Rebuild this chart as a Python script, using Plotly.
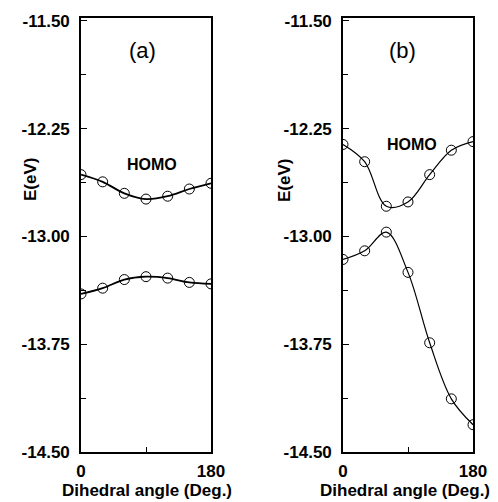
import plotly.graph_objects as go

angles = [0, 30, 60, 90, 120, 150, 180]
homo_a = [-12.57, -12.62, -12.70, -12.74, -12.72, -12.67, -12.63]
lower_a = [-13.40, -13.36, -13.30, -13.28, -13.29, -13.32, -13.33]
homo_b = [-12.36, -12.48, -12.79, -12.76, -12.57, -12.40, -12.34]
lower_b = [-13.16, -13.10, -12.97, -13.25, -13.74, -14.13, -14.31]

y_ticks = [-11.50, -12.25, -13.00, -13.75, -14.50]
y_ticktext = ["-11.50", "-12.25", "-13.00", "-13.75", "-14.50"]
x_ticks = [0, 180]
x_ticktext = ["0", "180"]

FONT = "Liberation Sans"
W, H = 498, 502

fig = go.Figure()

def add_series(y, xa, ya, lw):
    fig.add_trace(go.Scatter(
        x=angles, y=y, xaxis=xa, yaxis=ya, mode="lines+markers",
        line=dict(color="black", width=lw, shape="spline", smoothing=1.0),
        marker=dict(symbol="circle-open", size=10, color="black", line=dict(width=1)),
        showlegend=False, hoverinfo="skip"))

add_series(homo_a, "x", "y", 1.8)
add_series(lower_a, "x", "y", 1.8)
add_series(homo_b, "x2", "y2", 1.2)
add_series(lower_b, "x2", "y2", 1.2)

def px_x(p):
    return p / W

def px_y(p):
    return (H - p) / H

ydom = [px_y(452), px_y(18)]
xdom_a = [px_x(81), px_x(211)]
xdom_b = [px_x(343), px_x(473)]

tickfont = dict(family=FONT, size=17, color="black", weight="bold")

xcommon = dict(range=[0, 180], tickvals=x_ticks, ticktext=x_ticktext,
               ticks="inside", ticklen=5, tickcolor="black",
               showline=True, linecolor="black", linewidth=1.6, mirror=True,
               showgrid=False, zeroline=False, tickfont=tickfont, automargin=False,
               minor=dict(tickvals=[90], ticks="inside", ticklen=5, tickcolor="black"),
               ticklabelstandoff=3)
ycommon = dict(range=[-14.5, -11.48], tickvals=y_ticks, ticktext=y_ticktext,
               ticks="inside", ticklen=6, tickcolor="black",
               showline=True, linecolor="black", linewidth=1.6, mirror=True,
               showgrid=False, zeroline=False, tickfont=tickfont, domain=ydom,
               automargin=False,
               minor=dict(tickvals=[-11.875, -12.625, -13.375, -14.125],
                          ticks="inside", ticklen=5, tickcolor="black"),
               ticklabelstandoff=6)

fig.update_layout(
    template="none",
    width=W, height=H,
    margin=dict(l=0, r=0, t=0, b=0, pad=0),
    paper_bgcolor="white", plot_bgcolor="white",
    xaxis=dict(domain=xdom_a, anchor="y", **xcommon),
    yaxis=dict(anchor="x", **ycommon),
    xaxis2=dict(domain=xdom_b, anchor="y2", **xcommon),
    yaxis2=dict(anchor="x2", **ycommon),
)

def ann(text, x, y, size, angle=0, bold=True):
    t = f"<b>{text}</b>" if bold else text
    fig.add_annotation(text=t, x=px_x(x), y=px_y(y), xref="paper", yref="paper",
                       showarrow=False, textangle=angle, xanchor="center", yanchor="middle",
                       font=dict(family=FONT, size=size, color="black"))

ann("(a)", 142, 50, 22, bold=False)
ann("(b)", 402, 50, 22, bold=False)
ann("HOMO", 152, 164, 16)
ann("HOMO", 412, 145, 16)
ann("E(eV)", 30, 180, 17, angle=-90)
ann("E(eV)", 284, 181, 17, angle=-90)
ann("Dihedral angle (Deg.)", 147, 490, 17)
ann("Dihedral angle (Deg.)", 405, 490, 17)

fig.write_html("out.html", config={"displayModeBar": False},
               post_script="document.body.style.margin='0';document.body.style.overflow='hidden';")
